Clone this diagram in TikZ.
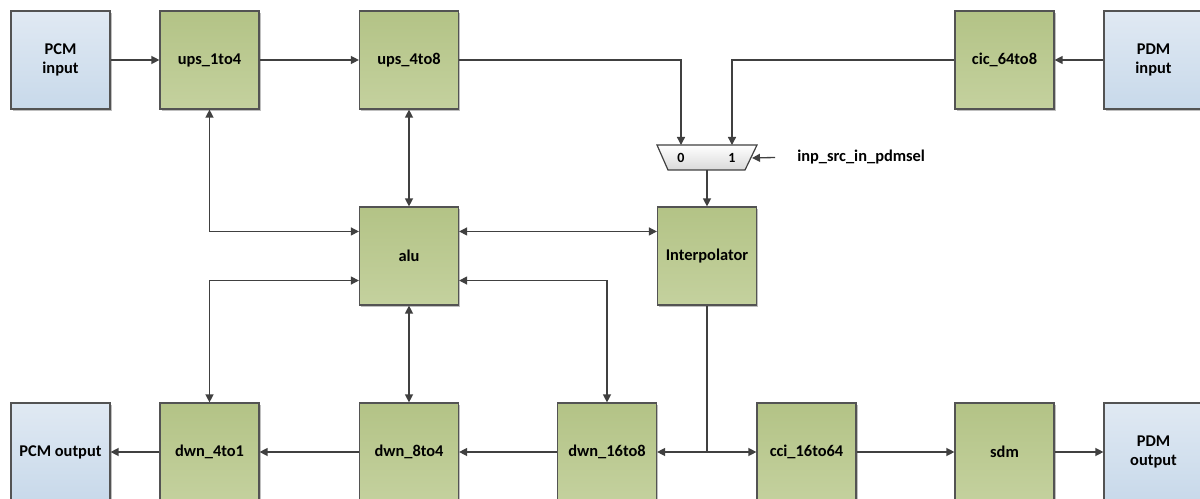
\documentclass[tikz,border=0pt]{standalone}
\usepackage{fontspec}
\setmainfont{Carlito}
\usetikzlibrary{arrows.meta,positioning,shadows}
\definecolor{blkTop}{HTML}{B3C386}
\definecolor{blkBot}{HTML}{C4D19E}
\definecolor{ioTop}{HTML}{E0E9F3}
\definecolor{ioBot}{HTML}{C8D9EA}
\definecolor{wire}{HTML}{404040}

\begin{document}
\begin{tikzpicture}[x=0.75pt,y=-0.75pt,
    blk/.style={draw=wire!90,line width=0.9pt,top color=blkTop,bottom color=blkBot,
      minimum width=74.25pt,minimum height=73.5pt,inner sep=0pt,align=center,
      font=\bfseries\fontsize{12.3}{14.5}\selectfont,
      drop shadow={shadow xshift=1.2pt,shadow yshift=-1.2pt,opacity=0.25,fill=black}},
    io/.style={blk,top color=ioTop,bottom color=ioBot},
    sig/.style={draw=wire,line width=1pt,-{Triangle[length=6pt,width=6pt]}},
    bi/.style={sig,{Triangle[length=6pt,width=6pt]}-{Triangle[length=6pt,width=6pt]}},
    lbl/.style={font=\bfseries\fontsize{12.3}{14}\selectfont,inner sep=0pt}]
  \clip (0,0) rectangle (1200,499);

  \node[io]  (pcmin)  at (60.5,60)   {PCM\\input};
  \node[blk] (ups14)  at (209.5,60)  {ups\_1to4};
  \node[blk] (ups48)  at (409,60)    {ups\_4to8};
  \node[blk] (cic)    at (1004.5,60) {cic\_64to8};
  \node[io]  (pdmin)  at (1153.5,60) {PDM\\input};
  \node[blk] (alu)    at (409,256)   {alu};
  \node[blk] (interp) at (707,256)   {Interpolator};
  \node[io]  (pcmout) at (60.5,452)  {PCM output};
  \node[blk] (dwn41)  at (209.5,452) {dwn\_4to1};
  \node[blk] (dwn84)  at (409,452)   {dwn\_8to4};
  \node[blk] (dwn168) at (607,452)   {dwn\_16to8};
  \node[blk] (cci)    at (806.5,452) {cci\_16to64};
  \node[blk] (sdm)    at (1004.5,452) {sdm};
  \node[io]  (pdmout) at (1153.5,452) {PDM\\output};

  \draw[draw=wire,line width=0.9pt,top color=white,bottom color=black!15]
    (657,145) -- (757,145) -- (745,170) -- (668,170) -- cycle;
  \coordinate (m0) at (681,145);
  \coordinate (m1) at (732,145);
  \coordinate (mo) at (707,170);
  \coordinate (ms) at (752,158);
  \node[lbl,font=\bfseries\fontsize{10.5}{11}\selectfont] (lbl0) at (681,158) {0};
  \node[lbl,font=\bfseries\fontsize{10.5}{11}\selectfont] (lbl1) at (732,158) {1};
  \node[lbl,anchor=west] (sel) at (797,157) {inp\_src\_in\_pdmsel};

  \draw[sig] (pcmin) -- (ups14);
  \draw[sig] (ups14) -- (ups48);
  \draw[sig] (ups48.east) -| (m0);
  \draw[sig] (pdmin) -- (cic);
  \draw[sig] (cic.west) -| (m1);
  \draw[sig,shorten <=16.5pt] (sel.west) -- (ms);
  \draw[sig] (mo) -- (mo |- interp.north);
  \draw[bi] (ups14.south) |- ([yshift=18.4pt]alu.west);
  \draw[bi] (ups48) -- (alu);
  \draw[bi] ([yshift=18.4pt]alu.east) -- ([yshift=18.4pt]interp.west);
  \draw[bi] (dwn41.north) |- ([yshift=-18.4pt]alu.west);
  \draw[bi] (alu) -- (dwn84);
  \draw[bi] ([yshift=-18.4pt]alu.east) -| (dwn168.north);
  \draw[draw=wire,line width=1pt] (interp.south) -- (interp.south |- dwn168.east) coordinate (tap);
  \draw[sig] (tap) -- (dwn168.east);
  \draw[sig] (tap) -- (cci.west);
  \draw[sig] (dwn168) -- (dwn84);
  \draw[sig] (dwn84) -- (dwn41);
  \draw[sig] (dwn41) -- (pcmout);
  \draw[sig] (cci) -- (sdm);
  \draw[sig] (sdm) -- (pdmout);
\end{tikzpicture}
\end{document}
